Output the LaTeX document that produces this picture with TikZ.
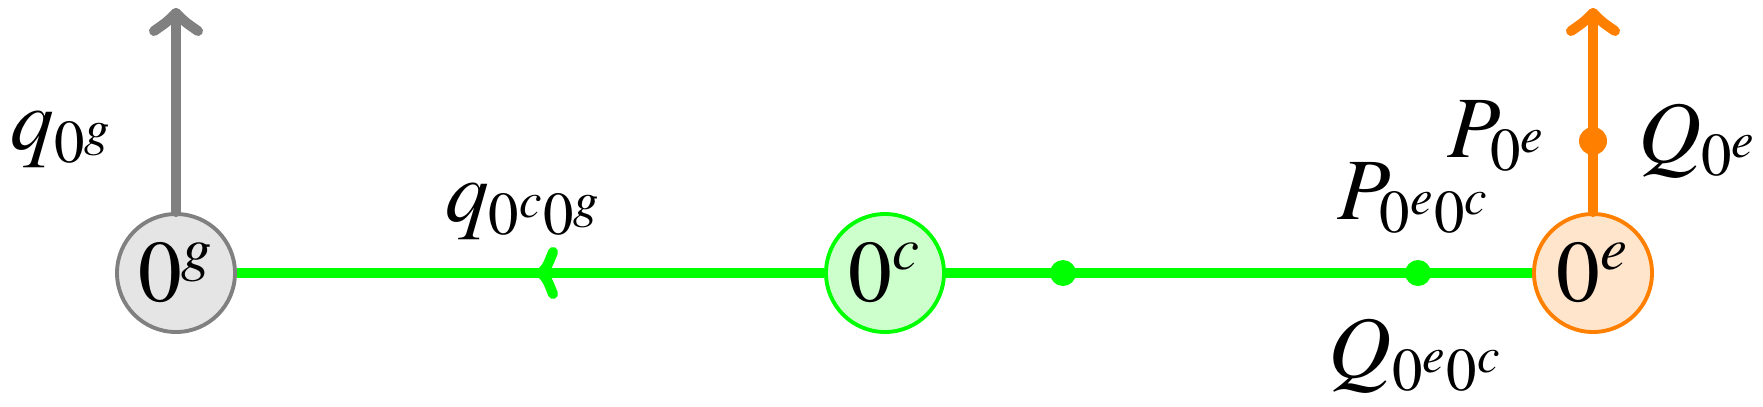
\documentclass[tikz,border=0pt]{standalone}
\usepackage{mathptmx}
\usepackage{tikz}
\usetikzlibrary{calc}
\usetikzlibrary{arrows}

\begin{document}
\begin{tikzpicture}[font=\Huge,
    line width=2.85pt,
    staten/.style={circle,draw,line width=1.1pt,minimum size=1.18cm,inner sep=0pt},
    dotn/.style={circle,fill,inner sep=0pt,minimum size=#1},
    barbn/.style={line cap=round,line join=round}]
  \useasboundingbox (0,0) rectangle (17.63,4.06);
  % the three states
  \node[staten,draw=gray,fill=gray!20] (g) at (1.76,1.33) {$0^g$};
  \node[staten,draw=green,fill=green!20] (c) at (8.85,1.33) {$0^c$};
  \node[staten,draw=orange,fill=orange!20] (e) at (15.93,1.33) {$0^e$};
  \coordinate (gtop) at (1.76,3.93);
  \coordinate (etop) at (15.93,3.93);
  \coordinate (cgmid) at (5.41,1.33);
  % points on the flows
  \node[dotn=0.26cm,green] (ca) at (10.63,1.33) {};
  \node[dotn=0.26cm,green] (cb) at (14.18,1.33) {};
  \node[dotn=0.28cm,orange] (eq) at (15.93,2.65) {};
  % flows
  \draw[gray,barbn] (g) -- (gtop);
  \draw[orange,barbn] (e) -- (etop);
  \draw[green] (c) -- (g);
  \draw[green] (c) -- (e);
  % arrow heads
  \draw[gray,barbn,shift={(gtop)}] (-0.22,-0.18) .. controls (-0.09,-0.09) .. (0,0)
    .. controls (0.09,-0.09) .. (0.22,-0.18);
  \draw[orange,barbn,shift={(etop)}] (-0.22,-0.18) .. controls (-0.09,-0.09) .. (0,0)
    .. controls (0.09,-0.09) .. (0.22,-0.18);
  \draw[green,barbn,shift={(cgmid)},rotate=90] (-0.21,-0.12) .. controls (-0.06,-0.06) .. (0,0)
    .. controls (0.06,-0.06) .. (0.21,-0.12);
  % labels
  \node (qg) at ($(g)+(-1.14,1.33)$) {$q_{0^g}$};
  \node (qcg) at (5.24,1.94) {$q_{0^c0^g}$};
  \node (pe) at ($(eq)+(-0.96,0.05)$) {$P_{0^e}$};
  \node (qe) at ($(eq)+(1.05,0)$) {$Q_{0^e}$};
  \node (pec) at ($(cb)+(-0.04,0.75)$) {$P_{0^e0^c}$};
  \node (qec) at ($(cb)+(-0.02,-0.83)$) {$Q_{0^e0^c}$};
\end{tikzpicture}
\end{document}
